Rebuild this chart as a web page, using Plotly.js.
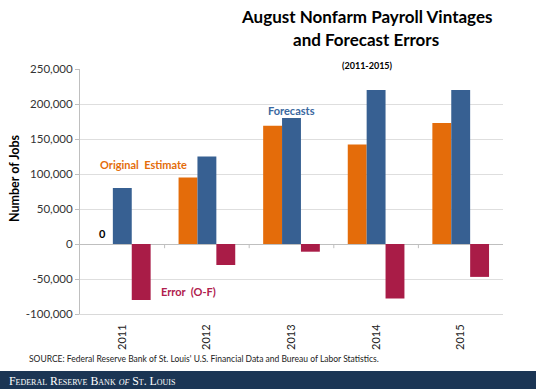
<!DOCTYPE html>
<html>
<head>
<meta charset="utf-8">
<script src="https://cdn.plot.ly/plotly-3.0.1.min.js"></script>
<style>html,body{margin:0;padding:0;background:#fff;}#chart{width:536px;height:389px;}</style>
</head>
<body>
<div id="chart"></div>
<script>
// Data
const years = ['2011', '2012', '2013', '2014', '2015'];
const originalEstimate = [0, 95000, 169000, 142000, 173000];
const forecasts = [80000, 125000, 180000, 220000, 220000];
const errors = [-80000, -30000, -11000, -78000, -47000];
const yTickVals = [-100000, -50000, 0, 50000, 100000, 150000, 200000, 250000];
const yTickText = ['-100,000', '-50,000', '0', '50,000', '100,000', '150,000', '200,000', '250,000'];

const W = 536, H = 389;
const M = {l: 80, r: 33, t: 69, b: 75};
const pw = W - M.l - M.r, ph = H - M.t - M.b;
const px = p => (p - M.l) / pw;
const py = p => (H - M.b - p) / ph;

const FONT = 'Lato, "Open Sans", sans-serif';
const cOrange = '#E46C0A', cBlue = '#376092', cRed = '#A91C47';

const traces = [
  {type: 'bar', name: 'Original Estimate', x: years, y: originalEstimate, marker: {color: cOrange}, hoverinfo: 'none'},
  {type: 'bar', name: 'Forecasts', x: years, y: forecasts, marker: {color: cBlue}, hoverinfo: 'none'},
  {type: 'bar', name: 'Error (O-F)', x: years, y: errors, marker: {color: cRed}, hoverinfo: 'none'}
];

// category boundary tick marks on the zero line
const shapes = [];
for (let i = 0; i < years.length - 1; i++) {
  shapes.push({type: 'line', xref: 'x', yref: 'y', x0: i + 0.5, x1: i + 0.5, y0: 0, y1: -6000,
    line: {color: '#bfbfbf', width: 1}});
}
// footer band
shapes.push({type: 'rect', xref: 'paper', yref: 'paper', x0: px(0), x1: px(W), y0: py(371), y1: py(H + 2),
  fillcolor: '#1B3554', line: {width: 0}, layer: 'above'});

const annotations = [
  {text: '<b>August Nonfarm Payroll Vintages</b>', xref: 'paper', yref: 'paper', x: px(366), y: py(16), showarrow: false,
    xanchor: 'center', yanchor: 'middle', font: {family: FONT, size: 17, color: '#000'}},
  {text: '<b>and Forecast Errors</b>', xref: 'paper', yref: 'paper', x: px(366), y: py(39.5), showarrow: false,
    xanchor: 'center', yanchor: 'middle', font: {family: FONT, size: 17, color: '#000'}},
  {text: '<b>(2011-2015)</b>', xref: 'paper', yref: 'paper', x: px(367), y: py(65), showarrow: false,
    xanchor: 'center', yanchor: 'middle', font: {family: FONT, size: 9, color: '#000'}},
  {text: '<b>Number of Jobs</b>', xref: 'paper', yref: 'paper', x: px(14), y: py(178), showarrow: false, textangle: -90,
    xanchor: 'center', yanchor: 'middle', font: {family: FONT, size: 12.5, color: '#000'}},
  {text: '<b>Forecasts</b>', xref: 'x', yref: 'y', x: 2, y: 191000, showarrow: false,
    xanchor: 'center', yanchor: 'middle', font: {family: FONT, size: 11, color: '#3A68A0'}},
  {text: '<b>Original  Estimate</b>', xref: 'x', yref: 'y', x: 0.245, y: 113000, showarrow: false,
    xanchor: 'center', yanchor: 'middle', font: {family: FONT, size: 11, color: cOrange}},
  {text: '<b>Error  (O-F)</b>', xref: 'x', yref: 'y', x: 0.78, y: -68500, showarrow: false,
    xanchor: 'center', yanchor: 'middle', font: {family: FONT, size: 11, color: '#B0204D'}},
  {text: '<b>' + originalEstimate[0] + '</b>', xref: 'x', yref: 'y', x: 0, xshift: -20, y: originalEstimate[0], yshift: 2, showarrow: false,
    xanchor: 'center', yanchor: 'bottom', font: {family: FONT, size: 11, color: '#000'}},
  {text: "SOURCE: Federal Reserve Bank of St. Louis' U.S. Financial Data and Bureau of Labor Statistics.", xref: 'paper', yref: 'paper',
    x: px(27), y: py(359), showarrow: false, xanchor: 'left', yanchor: 'middle', font: {family: FONT, size: 8.5, color: '#222'}},
  {text: 'Federal Reserve Bank <i>of</i> St. Louis', xref: 'paper', yref: 'paper', x: px(7), y: py(380.5), showarrow: false,
    xanchor: 'left', yanchor: 'middle', font: {family: '"Liberation Serif", serif', size: 11.8, color: '#fff', variant: 'small-caps'}}
];

const layout = {
  width: W, height: H,
  margin: M,
  paper_bgcolor: '#fff', plot_bgcolor: '#fff',
  showlegend: false,
  barmode: 'group', bargap: 0.33, bargroupgap: 0,
  font: {family: FONT, size: 11, color: '#333'},
  xaxis: {type: 'category', range: [-0.5, 4.5], tickangle: -90, ticks: '', showgrid: false,
    showline: true, linecolor: '#d9d9d9', linewidth: 1, ticklabelstandoff: 5,
    tickfont: {family: FONT, size: 11, color: '#222'}, fixedrange: true},
  yaxis: {range: [-100000, 250000], tickvals: yTickVals, ticktext: yTickText, ticks: 'outside', ticklen: 4,
    tickcolor: '#bfbfbf', showline: true, linecolor: '#bfbfbf', linewidth: 1, gridcolor: '#dedede', gridwidth: 1,
    zeroline: true, zerolinecolor: '#bfbfbf', zerolinewidth: 1, tickfont: {family: FONT, size: 11.5, color: '#333'}, fixedrange: true},
  shapes: shapes,
  annotations: annotations
};

Plotly.newPlot('chart', traces, layout, {displayModeBar: false, staticPlot: true});
</script>
</body>
</html>
